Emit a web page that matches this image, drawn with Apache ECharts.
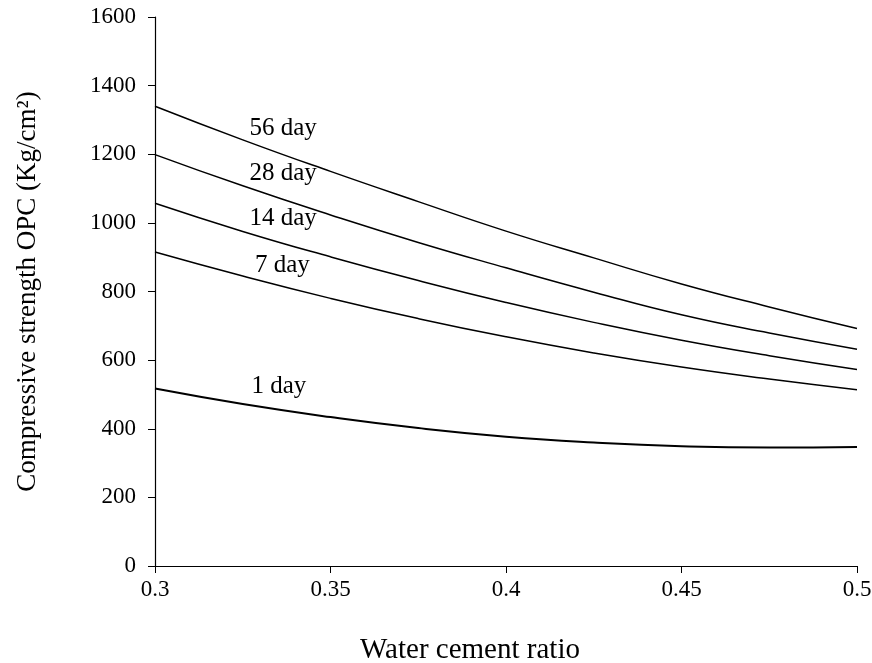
<!DOCTYPE html>
<html>
<head>
<meta charset="utf-8">
<script src="https://cdn.jsdelivr.net/npm/echarts@6/dist/echarts.min.js"></script>
<style>
  html, body { margin: 0; padding: 0; background: #fff; }
  #chart { width: 872px; height: 663px; }
</style>
</head>
<body>
<div id="chart"></div>
<script>
// water cement ratio samples
const ratios = [0.3, 0.325, 0.35, 0.375, 0.4, 0.425, 0.45, 0.475, 0.5]

// compressive strength (Kg/cm2)
const day56 = [1340, 1242, 1150, 1062, 976, 898, 822, 755, 692]
const day28 = [1199, 1108, 1023, 943, 869, 798, 732, 679, 632]
const day14 = [1057, 975, 901, 832, 768, 710, 658, 613, 573]
const day7 = [915, 845, 780, 721, 668, 621, 580, 545, 514]
const day1 = [517, 472, 434, 402, 377, 360, 349, 345, 347]

const seriesNames = ['56 day', '28 day', '14 day', '7 day', '1 day']
// label anchors [ratio, strength]
const labelAt = [[0.3365, 1276], [0.3365, 1144], [0.3365, 1013], [0.3363, 877], [0.3353, 522]]

const yTicks = { min: 0, max: 1600, interval: 200 }
const xTicks = { min: 0.3, max: 0.5, interval: 0.05 }

const font = 'Liberation Serif'

function makeSeries(name, values, anchor, width) {
  return {
    name: name,
    type: 'line',
    smooth: true,
    symbol: 'none',
    data: ratios.map((r, i) => [r, values[i]]),
    lineStyle: { color: '#000', width: width },
    markPoint: {
      symbol: 'circle',
      symbolSize: 0,
      silent: true,
      label: {
        show: true,
        formatter: name,
        color: '#000',
        fontFamily: font,
        fontSize: 25,
        position: 'inside'
      },
      data: [{ coord: anchor }]
    }
  }
}

const chart = echarts.init(document.getElementById('chart'))
chart.setOption({
  animation: false,
  backgroundColor: '#fff',
  grid: { left: 155, right: 15, top: 17, bottom: 97, outerBoundsMode: 'none' },
  xAxis: {
    type: 'value',
    min: xTicks.min,
    max: xTicks.max,
    interval: xTicks.interval,
    name: 'Water cement ratio',
    nameLocation: 'middle',
    nameGap: 70,
    nameTextStyle: { color: '#000', fontFamily: font, fontSize: 29, padding: [0, 72, 0, 0] },
    axisLine: { lineStyle: { color: '#000', width: 1.2 } },
    axisTick: { show: true, length: 7, lineStyle: { color: '#000' } },
    axisLabel: { color: '#000', fontFamily: font, fontSize: 23, margin: 12 },
    splitLine: { show: false }
  },
  yAxis: {
    type: 'value',
    min: yTicks.min,
    max: yTicks.max,
    interval: yTicks.interval,
    name: 'Compressive strength OPC (Kg/cm²)',
    nameLocation: 'middle',
    nameGap: 114,
    nameTextStyle: { color: '#000', fontFamily: font, fontSize: 27 },
    axisLine: { show: true, lineStyle: { color: '#000', width: 1.2 } },
    axisTick: { show: true, length: 7, lineStyle: { color: '#000' } },
    axisLabel: { color: '#000', fontFamily: font, fontSize: 23, margin: 19, formatter: v => String(v) },
    splitLine: { show: false }
  },
  series: [
    makeSeries(seriesNames[0], day56, labelAt[0], 1.5),
    makeSeries(seriesNames[1], day28, labelAt[1], 1.5),
    makeSeries(seriesNames[2], day14, labelAt[2], 1.5),
    makeSeries(seriesNames[3], day7, labelAt[3], 1.5),
    makeSeries(seriesNames[4], day1, labelAt[4], 2)
  ]
})
</script>
</body>
</html>
